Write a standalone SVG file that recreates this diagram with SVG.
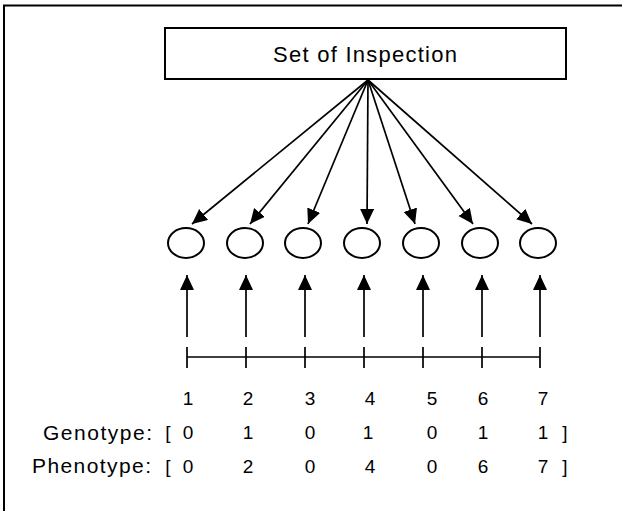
<svg xmlns="http://www.w3.org/2000/svg" width="622" height="511" viewBox="0 0 622 511">
  <defs>
    <marker id="arrow" markerUnits="userSpaceOnUse" markerWidth="16" markerHeight="15" refX="15" refY="7" orient="auto">
      <path d="M0,0 L15,7 L0,14 z" fill="#000"/>
    </marker>
  </defs>
  <style>
    .frame { stroke: #000; stroke-width: 2; fill: none; }
    .box { fill: #fff; stroke: #000; stroke-width: 2; }
    .node { fill: #fff; stroke: #000; stroke-width: 2; }
    .edge { stroke: #000; stroke-width: 1.7; fill: none; marker-end: url(#arrow); }
    .scale { stroke: #000; stroke-width: 1.7; fill: none; }
    text { font-family: "Liberation Sans", Arial, sans-serif; fill: #000; }
    .title { font-size: 22px; }
    .num { font-size: 19px; text-anchor: middle; }
    .lbl { font-size: 21px; }
  </style>

  <!-- outer frame (top and left edges) -->
  <path class="frame" d="M4,511 L4,5.5 L622,5.5"/>

  <!-- source box -->
  <g id="inspection">
    <rect class="box" x="165" y="28" width="401" height="51"/>
    <text class="title" x="273" y="62" textLength="184" lengthAdjust="spacing">Set of Inspection</text>
  </g>

  <!-- connectors -->
  <g id="connectors">
    <line class="edge" x1="368" y1="80" x2="192" y2="224"/>
    <line class="edge" x1="368" y1="80" x2="250" y2="224"/>
    <line class="edge" x1="368" y1="80" x2="308" y2="224"/>
    <line class="edge" x1="368" y1="80" x2="367" y2="224"/>
    <line class="edge" x1="368" y1="80" x2="415" y2="224"/>
    <line class="edge" x1="368" y1="80" x2="473" y2="224"/>
    <line class="edge" x1="368" y1="80" x2="532" y2="224"/>

    <line class="edge" x1="187" y1="337" x2="187" y2="275"/>
    <line class="edge" x1="246" y1="337" x2="246" y2="275"/>
    <line class="edge" x1="305" y1="337" x2="305" y2="275"/>
    <line class="edge" x1="364" y1="337" x2="364" y2="275"/>
    <line class="edge" x1="423" y1="337" x2="423" y2="275"/>
    <line class="edge" x1="482" y1="337" x2="482" y2="275"/>
    <line class="edge" x1="540" y1="337" x2="540" y2="275"/>
  </g>

  <!-- gene nodes -->
  <g id="gene1"><ellipse class="node" cx="186" cy="243" rx="18" ry="15"/></g>
  <g id="gene2"><ellipse class="node" cx="245" cy="243" rx="18" ry="15"/></g>
  <g id="gene3"><ellipse class="node" cx="303" cy="243" rx="18" ry="15"/></g>
  <g id="gene4"><ellipse class="node" cx="362" cy="243" rx="18" ry="15"/></g>
  <g id="gene5"><ellipse class="node" cx="421" cy="243" rx="18" ry="15"/></g>
  <g id="gene6"><ellipse class="node" cx="480" cy="243" rx="18" ry="15"/></g>
  <g id="gene7"><ellipse class="node" cx="538" cy="243" rx="18" ry="15"/></g>

  <!-- position scale -->
  <g id="scale">
    <path class="scale" d="M187,357 L540,357
      M187,347 L187,368 M246,347 L246,368 M305,347 L305,368 M364,347 L364,368
      M423,347 L423,368 M482,347 L482,368 M540,347 L540,368"/>
  </g>

  <!-- positions -->
  <g id="positions">
    <text class="num" x="188" y="405">1</text>
    <text class="num" x="248" y="405">2</text>
    <text class="num" x="310" y="405">3</text>
    <text class="num" x="370" y="405">4</text>
    <text class="num" x="432" y="405">5</text>
    <text class="num" x="483" y="405">6</text>
    <text class="num" x="543" y="405">7</text>
  </g>

  <!-- genotype row -->
  <g id="genotype">
    <text class="lbl" x="43" y="440" textLength="109" lengthAdjust="spacing">Genotype:</text>
    <text class="num" x="168" y="439">[</text>
    <text class="num" x="188" y="439">0</text>
    <text class="num" x="248" y="439">1</text>
    <text class="num" x="310" y="439">0</text>
    <text class="num" x="368" y="439">1</text>
    <text class="num" x="432" y="439">0</text>
    <text class="num" x="483" y="439">1</text>
    <text class="num" x="543" y="439">1</text>
    <text class="num" x="565" y="439">]</text>
  </g>

  <!-- phenotype row -->
  <g id="phenotype">
    <text class="lbl" x="32" y="473" textLength="119" lengthAdjust="spacing">Phenotype:</text>
    <text class="num" x="168" y="473">[</text>
    <text class="num" x="188" y="473">0</text>
    <text class="num" x="248" y="473">2</text>
    <text class="num" x="310" y="473">0</text>
    <text class="num" x="370" y="473">4</text>
    <text class="num" x="432" y="473">0</text>
    <text class="num" x="483" y="473">6</text>
    <text class="num" x="543" y="473">7</text>
    <text class="num" x="565" y="473">]</text>
  </g>
</svg>
